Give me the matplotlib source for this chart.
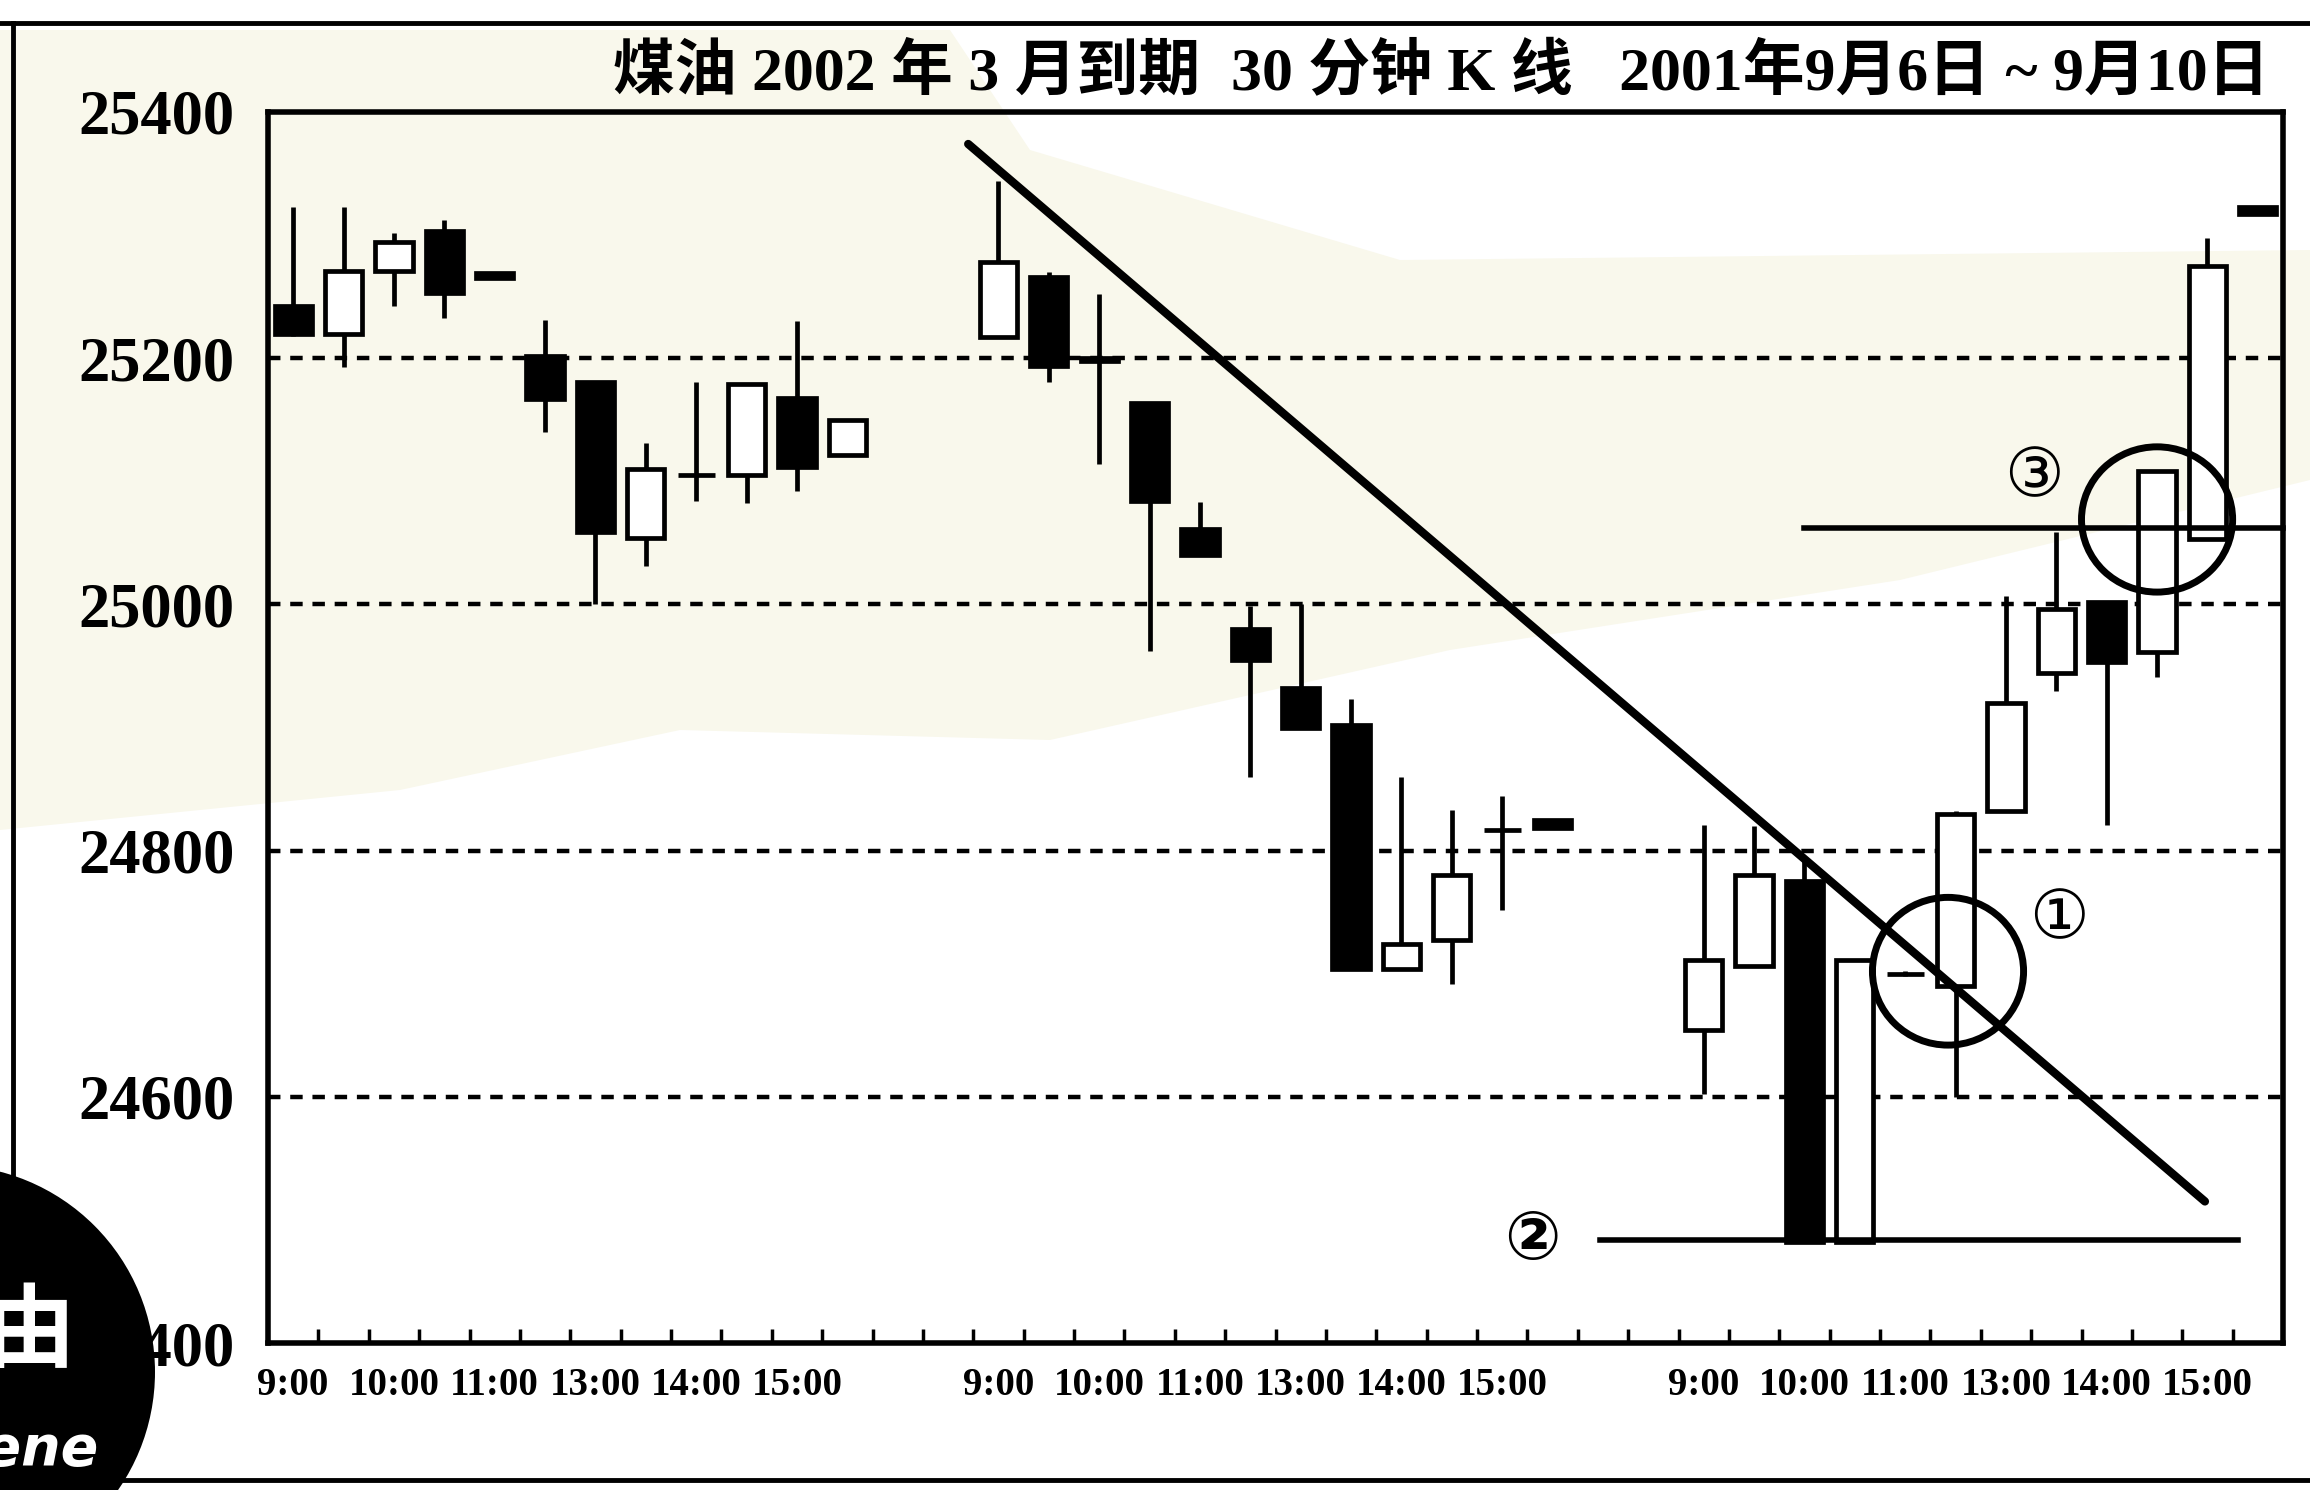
import matplotlib
matplotlib.use("Agg")
import matplotlib.pyplot as plt
from matplotlib.patches import Ellipse, Polygon
from matplotlib.lines import Line2D
import numpy as np

# ---------------- data ----------------
bar_times = ['9:00', '9:30', '10:00', '10:30', '11:00', '11:30',
             '13:00', '13:30', '14:00', '14:30', '15:00', '15:30']
trade_days = ['2001-09-06', '2001-09-07', '2001-09-10']

day1_open  = [25242, 25220, 25271, 25303, 25269, 25202, 25181, 25054, 25105, 25105, 25168, 25121]
day1_high  = [25323, 25323, 25302, 25312, 25270, 25231, 25181, 25131, 25181, 25180, 25230, 25150]
day1_low   = [25218, 25193, 25242, 25233, 25264, 25140, 25000, 25031, 25084, 25082, 25092, 25121]
day1_close = [25220, 25271, 25294, 25253, 25265, 25167, 25059, 25110, 25105, 25179, 25112, 25150]

day2_open  = [25217, 25266, 25200, 25164, 25061, 24980, 24932, 24902, 24704, 24727, 24817, 24825]
day2_high  = [25344, 25270, 25252, 25164, 25083, 24999, 25000, 24923, 24860, 24833, 24844, 24825]
day2_low   = [25217, 25181, 25114, 24962, 25040, 24860, 24900, 24704, 24704, 24692, 24752, 24818]
day2_close = [25278, 25194, 25198, 25084, 25040, 24955, 24900, 24704, 24724, 24780, 24817, 24818]

day3_open  = [24654, 24706, 24775, 24482, 24700, 24690, 24832, 24944, 25002, 24961, 25053, 25323]
day3_high  = [24821, 24820, 24795, 24711, 24702, 24832, 25007, 25059, 25002, 25108, 25298, 25323]
day3_low   = [24602, 24706, 24482, 24482, 24698, 24600, 24832, 24930, 24821, 24941, 25053, 25317]
day3_close = [24711, 24780, 24482, 24711, 24700, 24830, 24920, 24996, 24953, 25108, 25275, 25317]

y_ticks = [24400, 24600, 24800, 25000, 25200, 25400]
y_tick_labels = ['24400', '24600', '24800', '25000', '25200', '25400']

title_text = '煤油 2002 年 3 月到期  30 分钟 K 线   2001年9月6日 ~ 9月10日'

# annotations (bar-slot, price)
trend_line = [(13.9, 25374), (38.45, 24515)]
support_line_2 = [(26.45, 24484), (39.1, 24484)]
resist_line_3 = [(30.5, 25062), (40.0, 25062)]
circle_1 = (33.35, 24702, 3.0, 120)
circle_3 = (37.5, 25069, 3.0, 118)
label_marks = [('①', 35.55, 24744), ('②', 25.1, 24484), ('③', 35.05, 25103)]

# ---------------- layout ----------------
SLOTS_PER_DAY = 14
W, H = 2310, 1490
fig = plt.figure(figsize=(W / 100, H / 100), dpi=100)
fig.patch.set_facecolor('white')

def fx(px):
    return px / W

def fy(py):
    return 1 - py / H

# faint watermark background
cream = [(0, 30), (950, 30), (1030, 150), (1400, 260), (2310, 250), (2310, 480),
         (1900, 580), (1450, 650), (1050, 740), (680, 730), (400, 790), (0, 830)]
fig.add_artist(Polygon([(fx(x), fy(y)) for x, y in cream], closed=True,
                       transform=fig.transFigure, facecolor='#f9f8ec',
                       edgecolor='none', zorder=-5))

ax = fig.add_axes([fx(268), fy(1343), fx(2283) - fx(268), (1343 - 112) / H])
ax.set_facecolor('none')

opens = np.array(day1_open + day2_open + day3_open, dtype=float)
highs = np.array(day1_high + day2_high + day3_high, dtype=float)
lows = np.array(day1_low + day2_low + day3_low, dtype=float)
closes = np.array(day1_close + day2_close + day3_close, dtype=float)
n_bars = len(bar_times)
xs = np.array([d * SLOTS_PER_DAY + i + 0.5 for d in range(len(trade_days))
               for i in range(n_bars)])

# grid
for lvl in y_ticks[1:-1]:
    ax.axhline(lvl, color='black', lw=3.2, linestyle=(0, (2.8, 2.2)), zorder=1)

# candles
ax.vlines(xs, lows, highs, color='black', lw=3.4, zorder=2)
up = closes >= opens
body_bottom = np.minimum(opens, closes)
body_h = np.abs(closes - opens)
ax.bar(xs, body_h, bottom=body_bottom, width=0.74,
       color=np.where(up, 'white', 'black'), edgecolor='black',
       linewidth=3.4, zorder=3)

# annotations
(tx0, ty0), (tx1, ty1) = trend_line
ax.plot([tx0, tx1], [ty0, ty1], color='black', lw=6, solid_capstyle='round', zorder=5)
(sx0, sy0), (sx1, sy1) = support_line_2
ax.plot([sx0, sx1], [sy0, sy1], color='black', lw=4, zorder=5)
(rx0, ry0), (rx1, ry1) = resist_line_3
ax.plot([rx0, rx1], [ry0, ry1], color='black', lw=4, zorder=5, clip_on=False)
for cx, cy, cw, ch in (circle_1, circle_3):
    ax.add_patch(Ellipse((cx, cy), cw, ch, facecolor='none', edgecolor='black',
                         lw=5, zorder=6))
for txt, lx, ly in label_marks:
    ax.text(lx, ly, txt, fontsize=48, ha='center', va='center',
            family=['DejaVu Sans', 'Noto Sans CJK SC'],
            fontweight='bold' if txt == '②' else 'normal', zorder=7)

# axes
ax.set_xlim(0, 40)
ax.set_ylim(y_ticks[0], y_ticks[-1])
for sp in ax.spines.values():
    sp.set_linewidth(4)
ax.set_xticks(np.arange(1, 40))
ax.set_xticklabels([])
ax.tick_params(axis='x', which='major', direction='in', length=10, width=2.5)
lab_pos = [d * SLOTS_PER_DAY + i + 0.5 for d in range(len(trade_days))
           for i, t in enumerate(bar_times) if t.endswith(':00')]
lab_txt = [t for d in range(len(trade_days)) for t in bar_times if t.endswith(':00')]
ax.set_xticks(lab_pos, minor=True)
ax.set_xticklabels(lab_txt, minor=True, fontsize=28, family='Liberation Serif',
                   fontweight='bold')
ax.tick_params(axis='x', which='minor', length=0, pad=17)
ax.set_yticks(y_ticks)
ax.set_yticklabels(y_tick_labels, fontsize=45, family='Liberation Serif',
                   fontweight='bold')
ax.tick_params(axis='y', length=0, pad=24)

# title
fig.text(fx(2269), fy(74), title_text, ha='right', va='center', fontsize=44.5,
         fontweight='bold', family=['Liberation Serif', 'Noto Sans CJK SC'])

# page frame lines
fig.add_artist(Line2D([0, 1], [fy(23), fy(23)], transform=fig.transFigure,
                      color='black', lw=3.5))
fig.add_artist(Line2D([fx(13), fx(13)], [fy(23), fy(1480)], transform=fig.transFigure,
                      color='black', lw=3.5))
fig.add_artist(Line2D([0, 1], [fy(1480), fy(1480)], transform=fig.transFigure,
                      color='black', lw=3.5))

# corner logo
R = 207
fig.add_artist(Ellipse((fx(-52), fy(1372)), 2 * R / W, 2 * R / H,
                       transform=fig.transFigure, facecolor='black',
                       edgecolor='none', zorder=10))
fig.text(fx(30), fy(1333), '由', color='white', fontsize=66, ha='center', va='center',
         family=['Noto Sans CJK SC'], fontweight='bold', zorder=11)
fig.text(fx(98), fy(1465), 'Gene', color='white', fontsize=40, ha='right',
         va='baseline', style='italic', fontweight='bold', family='DejaVu Sans',
         zorder=11)

fig.savefig('out.png', dpi=100)
